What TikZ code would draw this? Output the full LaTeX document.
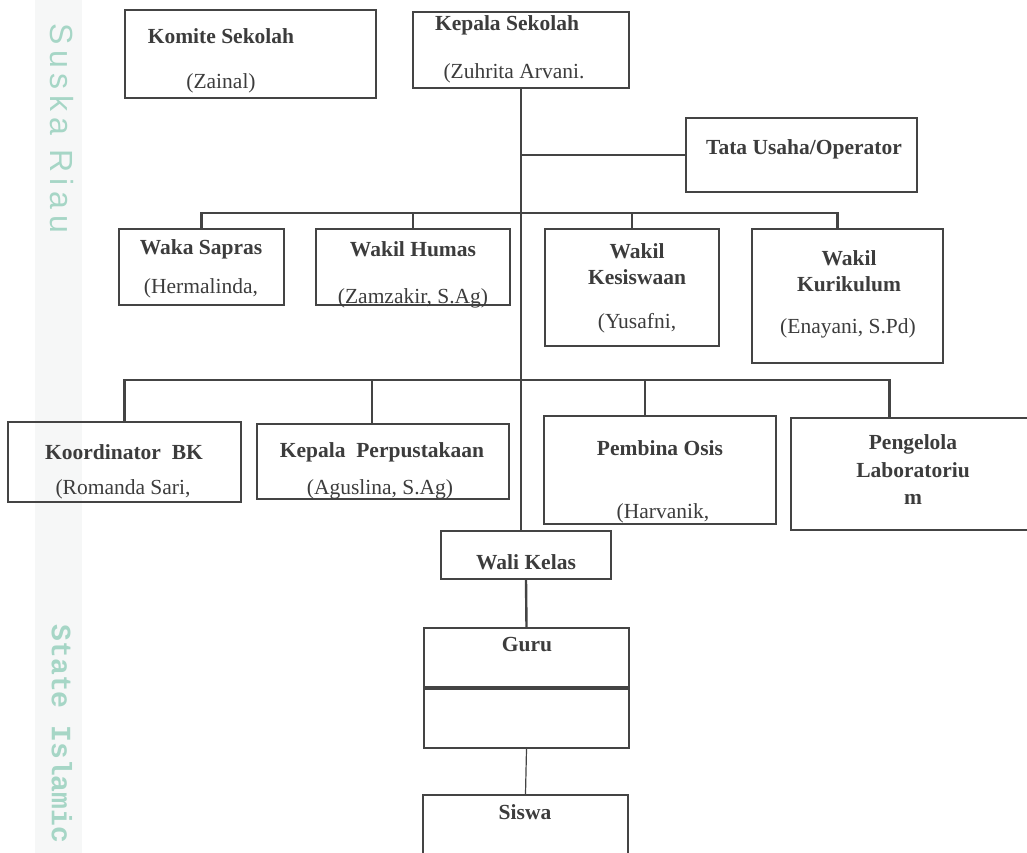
\documentclass[tikz,border=0pt]{standalone}
\usepackage{fontspec}
\setmainfont{Liberation Serif}
\newfontfamily\wmsans[LetterSpace=18]{Liberation Sans}
\newfontfamily\wmslab{Liberation Mono}
\definecolor{linegray}{HTML}{444444}
\definecolor{textgray}{HTML}{3C3C3C}
\definecolor{wmteal}{HTML}{A6D6C6}
\definecolor{wmband}{HTML}{F6F7F7}
\begin{document}
\begin{tikzpicture}
[x=1pt,y=-1pt,
  boxdecorate/.style={draw=linegray,line width=2.4pt,inner sep=0pt},
  labeldecorate/.style={text=textgray,inner sep=0pt,align=center,font=\fontsize{21.5}{26}\selectfont},
  headdecorate/.style={labeldecorate,font=\fontsize{21.5}{26}\selectfont\bfseries},
  linedecorate/.style={draw=linegray,line width=2.4pt}]
\useasboundingbox (0,0) rectangle (1027,853);
% watermark at the left
\fill[wmband] (35,0) rectangle (82,853);
\node (wmtop) at (62,128) [rotate=-90,text=wmteal,font=\wmsans\fontsize{32}{32}\selectfont] {Suska Riau};
\node (wmbottom) at (62,734) [rotate=-90,text=wmteal,font=\wmslab\bfseries\fontsize{28}{28}\selectfont] {State Islamic};
% boxes
\node (komite) at (250.5,54) [boxdecorate,minimum width=251,minimum height=88] {};
\node (kepala) at (521,50) [boxdecorate,minimum width=216,minimum height=76] {};
\node (tata) at (801.5,155) [boxdecorate,minimum width=231,minimum height=74] {};
\node (sapras) at (201.5,267) [boxdecorate,minimum width=165,minimum height=76] {};
\node (humas) at (413,267) [boxdecorate,minimum width=194,minimum height=76] {};
\node (kesiswaan) at (632,287.5) [boxdecorate,minimum width=174,minimum height=117] {};
\node (kurikulum) at (847.5,296) [boxdecorate,minimum width=191,minimum height=134] {};
\node (koordinator) at (124.5,462) [boxdecorate,minimum width=233,minimum height=80] {};
\node (perpus) at (383,461.5) [boxdecorate,minimum width=252,minimum height=75] {};
\node (osis) at (660,470) [boxdecorate,minimum width=232,minimum height=108] {};
\node (lab) at (911.5,474) [boxdecorate,minimum width=241,minimum height=112] {};
\node (wali) at (526,555) [boxdecorate,minimum width=170,minimum height=48] {};
\node (guru) at (526.5,688) [boxdecorate,minimum width=205,minimum height=120] {};
\node (siswa) at (525.5,826.5) [boxdecorate,minimum width=205,minimum height=63] {};
% texts
\node (komite-a) at (221,36) [headdecorate] {Komite Sekolah};
\node (komite-b) at (221,83) [labeldecorate] {(Zainal)};
\node (kepala-a) at (507,25) [headdecorate] {Kepala Sekolah};
\node (kepala-b) at (514,73) [labeldecorate] {(Zuhrita Arvani.};
\node (tata-a) at (804,149) [headdecorate] {Tata Usaha/Operator};
\node (sapras-a) at (201,249) [headdecorate] {Waka Sapras};
\node (sapras-b) at (201,288) [labeldecorate] {(Hermalinda,};
\node (humas-a) at (413,249) [headdecorate] {Wakil Humas};
\node (humas-b) at (413,298) [labeldecorate] {(Zamzakir, S.Ag)};
\node (kesiswaan-a) at (637,264.5) [headdecorate] {Wakil\\Kesiswaan};
\node (kesiswaan-b) at (637,323) [labeldecorate] {(Yusafni,};
\node (kurikulum-a) at (849,271) [headdecorate] {Wakil\\Kurikulum};
\node (kurikulum-b) at (848,328) [labeldecorate] {(Enayani, S.Pd)};
\node (koordinator-a) at (124,452) [headdecorate] {Koordinator~~BK};
\node (koordinator-b) at (123,489) [labeldecorate] {(Romanda Sari,};
\node (perpus-a) at (382,452) [headdecorate] {Kepala~~Perpustakaan};
\node (perpus-b) at (380,489) [labeldecorate] {(Aguslina, S.Ag)};
\node (osis-a) at (660,448) [headdecorate] {Pembina Osis};
\node (osis-b) at (663,513) [labeldecorate] {(Harvanik,};
\node (lab-a) at (913,470) [headdecorate,font=\fontsize{21.5}{27.5}\selectfont\bfseries] {Pengelola\\Laboratoriu\\m};
\node (wali-a) at (526,562) [headdecorate] {Wali Kelas};
\node (guru-a) at (527,645) [headdecorate] {Guru};
\node (siswa-a) at (525,812) [headdecorate] {Siswa};
% lines
\coordinate (busA) at (521,213);
\coordinate (busB) at (521,380);
\draw[linedecorate] (kepala.south) -- (kepala.south |- wali.north);
\draw[linedecorate] (kepala.south |- tata.west) -- (tata.west);
\draw[linedecorate] (sapras.north) |- ([xshift=-10]kurikulum.north |- busA) -- ([xshift=-10]kurikulum.north);
\draw[linedecorate] (humas.north) -- (humas.north |- busA);
\draw[linedecorate] (kesiswaan.north) -- (kesiswaan.north |- busA);
\draw[linedecorate] (koordinator.north) |- ([xshift=-22]lab.north |- busB) -- ([xshift=-22]lab.north);
\draw[linedecorate] ([xshift=-11]perpus.north) -- ([xshift=-11]perpus.north |- busB);
\draw[linedecorate] ([xshift=-15]osis.north) -- ([xshift=-15]osis.north |- busB);
\draw[linedecorate] (wali.south) -- (guru.north);
\draw[draw=linegray,line width=3.5pt] (guru.west) -- (guru.east);
\draw[draw=linegray,line width=1.2pt] (guru.south) -- (siswa.north);
\end{tikzpicture}
\end{document}
